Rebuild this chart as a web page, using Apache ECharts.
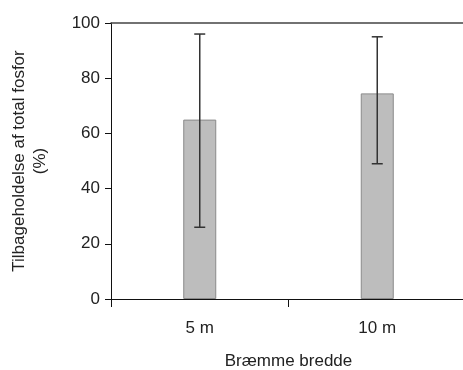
<!DOCTYPE html>
<html><head><meta charset="utf-8">
<script src="https://cdn.jsdelivr.net/npm/echarts@6/dist/echarts.min.js"></script>
<style>html,body{margin:0;padding:0;background:#fff}#c{width:463px;height:370px}</style>
</head><body><div id="c"></div>
<script>
var categories = ['5 m', '10 m'];
var means = [65, 74.5];
var errLow = [26, 49];
var errHigh = [96, 95];
var yTicks = [0, 20, 40, 60, 80, 100];

var chart = echarts.init(document.getElementById('c'), null, {renderer: 'canvas'});
var font = 'Liberation Sans, Arial, Helvetica, sans-serif';
var errData = categories.map(function (c, i) { return [i, errLow[i], errHigh[i]]; });
chart.setOption({
  animation: false,
  grid: {left: 111, top: 23, right: -3, bottom: 71, containLabel: false, outerBoundsMode: 'none'},
  xAxis: [{
    type: 'category', data: categories, position: 'bottom',
    axisLine: {lineStyle: {color: '#111', width: 1}},
    axisTick: {show: true, length: 8, inside: false, lineStyle: {color: '#111'}},
    axisLabel: {margin: 21, fontSize: 17, color: '#222', fontFamily: font},
    name: 'Bræmme bredde', nameLocation: 'middle', nameGap: 54,
    nameTextStyle: {fontSize: 17, color: '#222', fontFamily: font}
  }, {
    type: 'category', data: categories, position: 'top',
    axisLine: {lineStyle: {color: '#444', width: 1.5}},
    axisTick: {show: false}, axisLabel: {show: false}
  }],
  yAxis: {
    type: 'value', min: 0, max: 100, interval: 20,
    axisLine: {show: true, lineStyle: {color: '#111'}},
    axisTick: {show: true, length: 6, lineStyle: {color: '#111'}},
    splitLine: {show: false},
    axisLabel: {margin: 11, fontSize: 17, color: '#222', fontFamily: font,
      formatter: function (v) { return yTicks.indexOf(v) >= 0 ? String(v) : ''; }},
    name: 'Tilbageholdelse af total fosfor\n(%)', nameLocation: 'middle', nameGap: 60,
    nameTextStyle: {fontSize: 17, lineHeight: 21, color: '#222', fontFamily: font, align: 'center'}
  },
  series: [{
    type: 'bar', data: means, barWidth: 33,
    itemStyle: {color: '#bdbdbd', borderColor: '#8a8a8a', borderWidth: 1}
  }, {
    type: 'custom', data: errData, z: 10,
    renderItem: function (params, api) {
      var x = api.value(0);
      var lo = api.coord([x, api.value(1)]);
      var hi = api.coord([x, api.value(2)]);
      var hw = 5.5;
      var st = {stroke: '#333', lineWidth: 1.5};
      return {type: 'group', children: [
        {type: 'line', shape: {x1: lo[0], y1: lo[1], x2: hi[0], y2: hi[1]}, style: st},
        {type: 'line', shape: {x1: lo[0] - hw, y1: lo[1], x2: lo[0] + hw, y2: lo[1]}, style: st},
        {type: 'line', shape: {x1: hi[0] - hw, y1: hi[1], x2: hi[0] + hw, y2: hi[1]}, style: st}
      ]};
    }
  }]
});
</script></body></html>
